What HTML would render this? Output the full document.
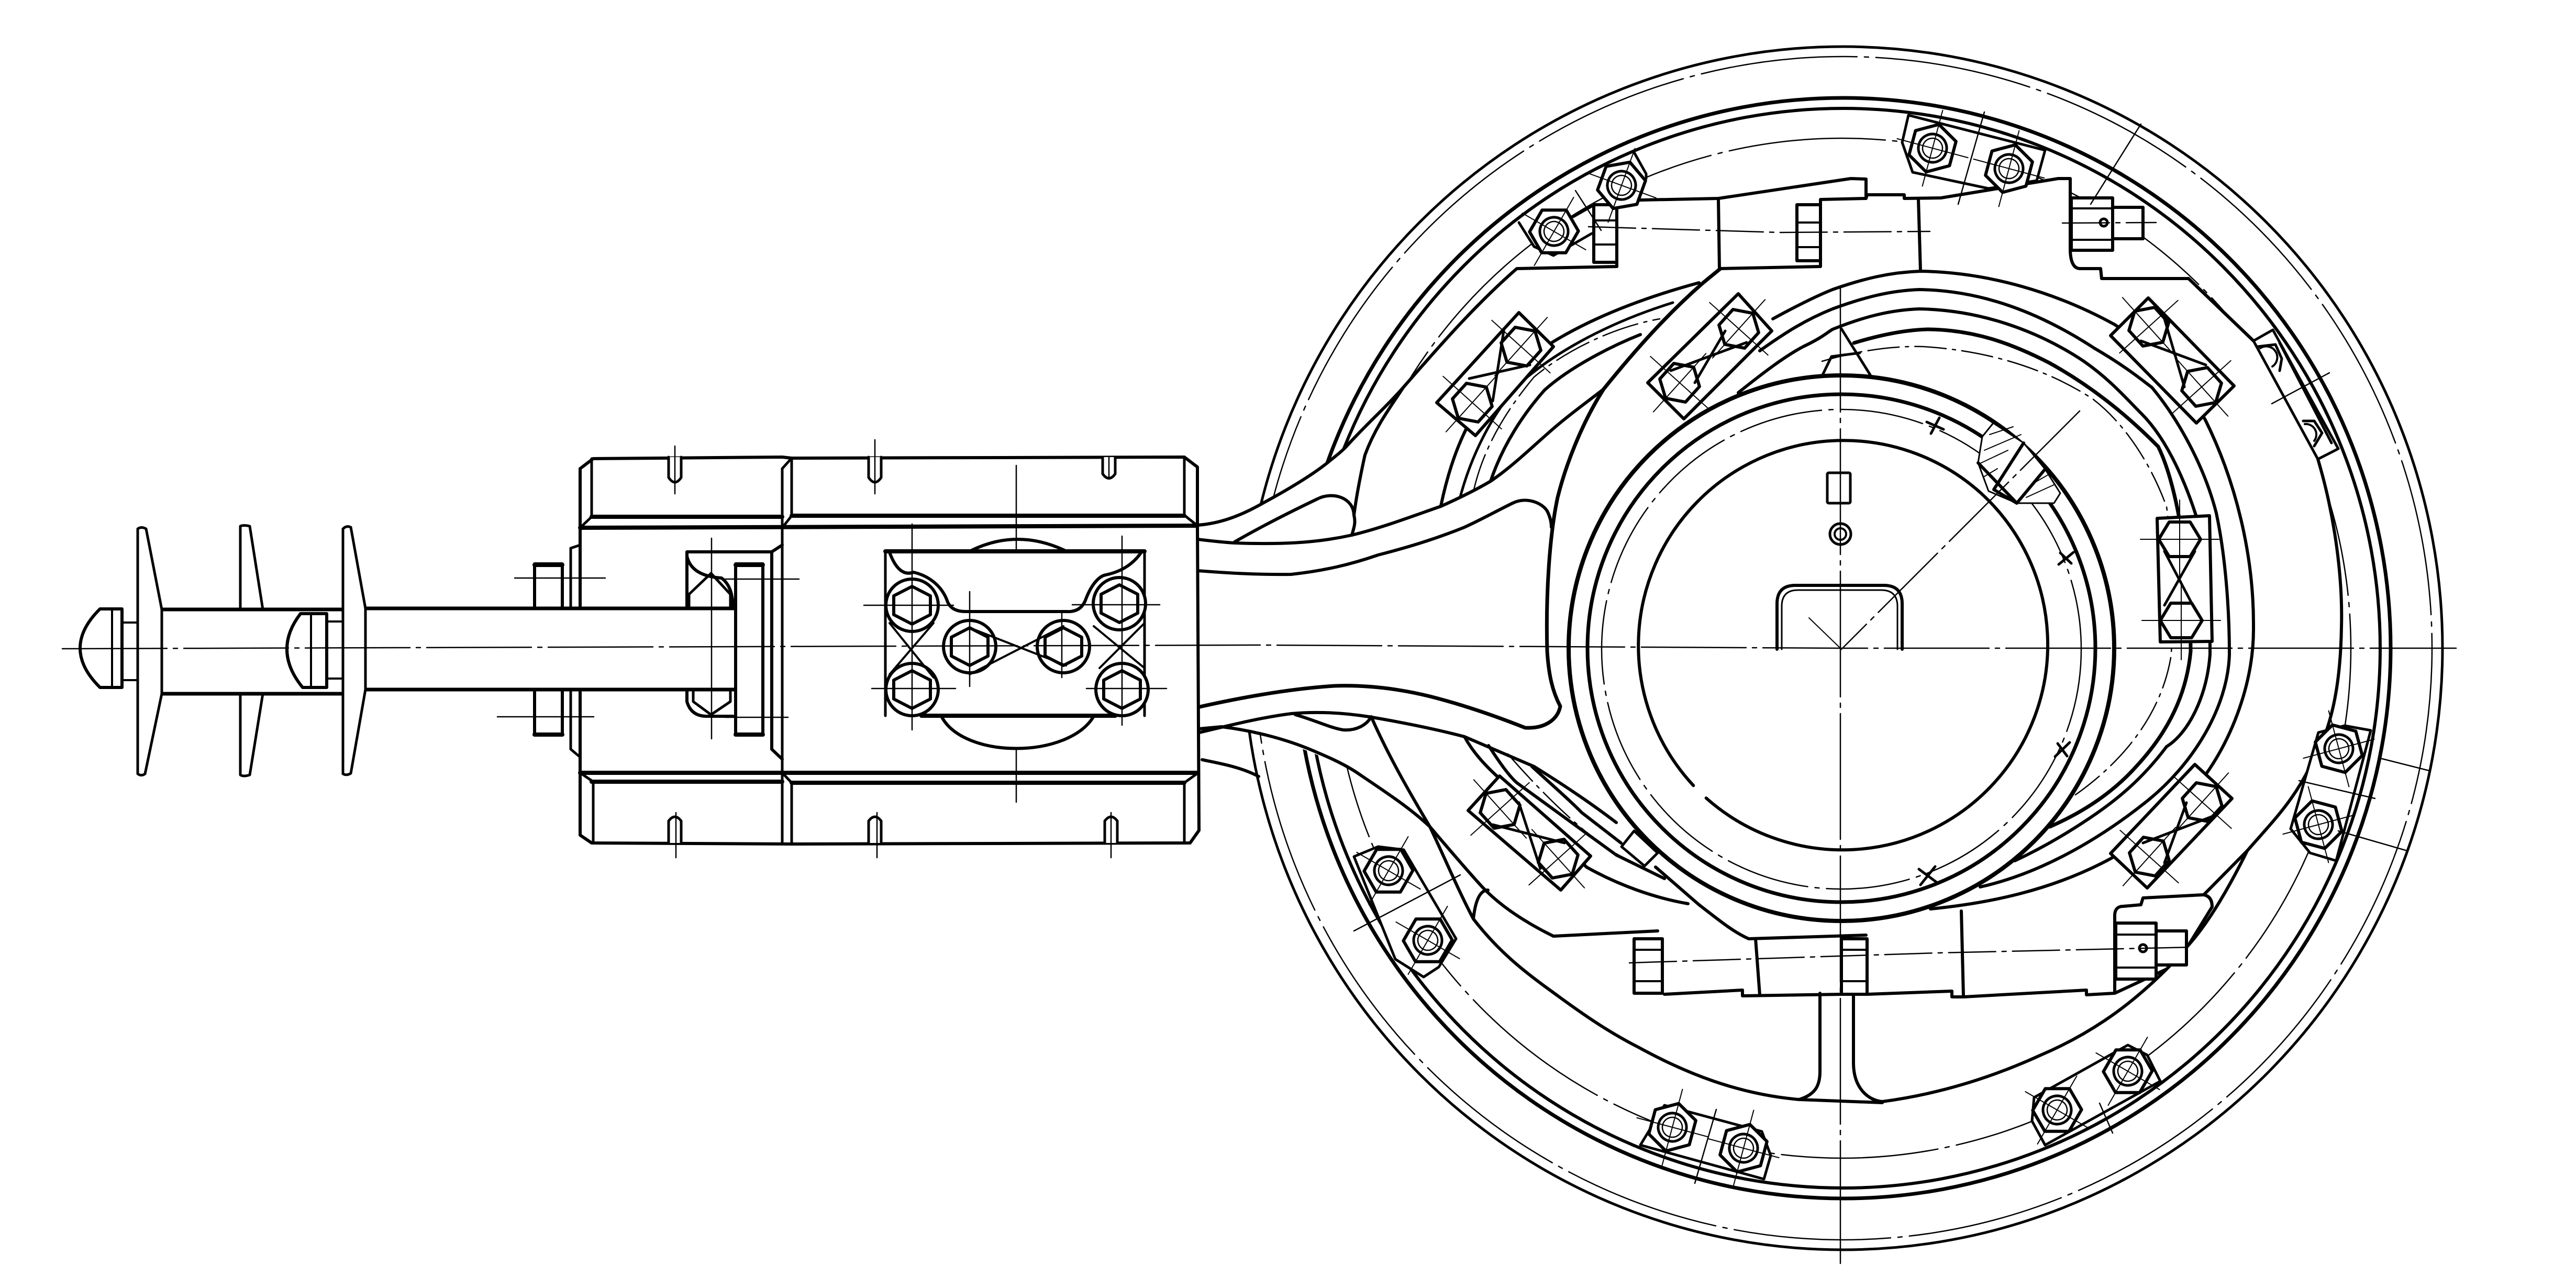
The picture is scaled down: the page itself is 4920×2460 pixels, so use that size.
<!DOCTYPE html>
<html><head><meta charset="utf-8"><style>html,body{margin:0;padding:0;background:#fff}svg{display:block}</style></head><body>
<svg xmlns="http://www.w3.org/2000/svg" width="4920" height="2460" viewBox="0 0 4920 2460">
<defs>
<g id="ph"><polygon points="0,-40 33,-20 33,20 0,40 -33,20 -33,-20" fill="#fff" stroke="#000" stroke-width="6"/><path d="M0,-75V75M-75,0H75" stroke="#000" stroke-width="2" fill="none"/></g>
<g id="nut"><polygon points="0,-47 40,-24 40,24 0,47 -40,24 -40,-24" fill="#fff" stroke="#000" stroke-width="6"/><circle r="27" fill="none" stroke="#000" stroke-width="5"/><circle r="19" fill="none" stroke="#000" stroke-width="2.5"/><path d="M0,-75V75M-70,0H70" stroke="#000" stroke-width="2" fill="none"/></g>
<g id="bb"><circle r="50" fill="#fff" stroke="#000" stroke-width="6"/><polygon points="0,-36 35,-18 35,18 0,36 -35,18 -35,-18" fill="none" stroke="#000" stroke-width="6"/></g>
</defs>
<rect width="4920" height="2460" fill="#fff"/>
<g fill="none" stroke="#000" stroke-width="5" stroke-linejoin="round" stroke-linecap="round">
<!-- rim rings -->
<ellipse cx="3520" cy="1238" rx="1145" ry="1149" stroke-width="5"/>
<ellipse cx="3520" cy="1238" rx="1125" ry="1130" stroke-width="2.5" stroke-dasharray="300 14 8 14"/>
<ellipse cx="3520" cy="1238" rx="1046" ry="1051" stroke-width="7"/>
<ellipse cx="3520" cy="1238" rx="1026" ry="1031" stroke-width="6"/>
<ellipse cx="3518" cy="1238" rx="972" ry="974" stroke-width="2.5" stroke-dasharray="300 14 8 14"/>
<!-- arm white fill -->
<path fill="#fff" stroke="none" d="M2287,1003C2330,1000 2370,985 2412,961C2460,935 2510,905 2540,880C2555,868 2565,860 2574,850C2610,810 2650,775 2681,739C2750,660 2820,580 2897,513L3040,446L3088,383L3282,379L3535,341L3564,342L3564,379L3637,372L3707,378L3931,341L3954,341L3954,478L3973,513L4014,532L4180,532L4304,651L4427,877C4455,970 4475,1090 4472,1198C4470,1320 4450,1400 4412,1464C4380,1530 4340,1570 4292,1625L4180,1805L4142,1847C4060,1930 3980,1980 3898,2015C3800,2060 3700,2090 3595,2104L3436,2102C3320,2090 3220,2050 3129,2000C3060,1965 3010,1935 2963,1893C2900,1840 2860,1800 2814,1755L2731,1579C2690,1535 2650,1505 2598,1480C2540,1450 2440,1405 2333,1388L2287,1400Z"/>
<!-- eccentric rings -->
<g stroke-width="6">
<path d="M3386,609C3430,585 3470,565 3500,553C3560,532 3610,520 3668,518C3800,520 3930,560 4039,620C4130,680 4190,760 4213,804C4270,920 4305,1060 4304,1198C4305,1300 4265,1410 4205,1490C4155,1555 4095,1605 4031,1640C3920,1700 3800,1725 3687,1736"/>
<path d="M3361,670C3410,635 3450,610 3500,590C3560,568 3610,555 3666,553C3790,555 3900,600 4000,665C4060,700 4090,725 4110,740C4160,800 4210,890 4233,980C4250,1060 4258,1160 4258,1250C4255,1350 4190,1460 4097,1533C4000,1610 3890,1670 3782,1694"/>
<path d="M3320,750C3370,710 3410,680 3444,662C3480,645 3490,635 3500,629C3560,605 3610,592 3666,590C3780,592 3890,630 3980,690C4030,725 4060,760 4090,790C4150,850 4190,960 4210,1040C4220,1120 4221,1200 4221,1250C4215,1330 4180,1400 4138,1426C4090,1490 4040,1530 3989,1564C3950,1590 3900,1620 3848,1644"/>
<path stroke-width="7" d="M3541,655C3590,640 3640,630 3682,629C3770,630 3840,655 3914,693C3990,735 4060,790 4122,853C4160,930 4184,1090 4184,1244C4175,1340 4130,1410 4080,1464C4030,1520 3970,1555 3915,1579"/>
<path stroke-width="2.5" stroke-dasharray="60 12 6 12" d="M3480,690C3540,672 3610,660 3674,662C3800,670 3910,705 3997,762C4060,810 4110,890 4138,968C4150,1050 4150,1170 4147,1250C4130,1360 4060,1450 3964,1518"/>
<path stroke-width="6" d="M2752,966C2770,880 2800,800 2850,745C2930,660 3060,590 3245,540"/>
<path stroke-width="5" d="M2789,949C2810,870 2850,790 2900,735C2960,680 3060,620 3195,578"/>
<path stroke-width="6" d="M2847,919C2870,850 2910,790 2950,745C3000,700 3080,660 3133,639"/>
<path stroke-width="2.5" stroke-dasharray="70 12 6 12" d="M2815,935C2835,850 2880,780 2930,720C2990,670 3080,625 3170,609"/>
<path d="M2797,1407C2815,1440 2840,1465 2864,1487L3030,1656C3090,1690 3160,1715 3224,1726"/>
<path d="M2843,1424C2860,1450 2880,1480 2897,1495L3087,1633L3179,1678"/>
<path d="M2926,1464C2965,1500 3000,1530 3021,1552L3096,1610"/>
<path stroke-width="2.5" stroke-dasharray="70 12 6 12" d="M2880,1440C2940,1510 3040,1610 3105,1640"/>
</g>
<!-- arm outlines -->
<g stroke-width="6">
<path d="M2287,1003C2330,1000 2370,985 2412,961C2460,935 2510,905 2540,880C2555,868 2565,860 2574,850C2610,810 2650,775 2681,739C2750,660 2820,580 2897,513L3088,509"/>
<path d="M2287,1030C2320,1034 2340,1036 2358,1037C2440,1040 2510,1038 2582,1022C2640,1008 2700,985 2752,967C2790,950 2820,935 2847,919C2890,890 2930,850 2971,815C3000,790 3035,765 3063,743"/>
<path d="M2287,1090C2340,1094 2400,1098 2466,1097C2530,1090 2580,1078 2632,1060C2690,1045 2740,1030 2797,1007C2830,992 2860,975 2889,961C2915,948 2945,960 2955,976C2962,990 2963,1000 2963,1007"/>
<path d="M2358,1035C2410,1005 2470,975 2516,953C2545,938 2585,950 2586,984C2590,1000 2585,1010 2582,1022"/>
<path d="M2586,984C2592,935 2607,869 2607,869C2625,820 2650,785 2681,739"/>
<path stroke-width="7" d="M3286,513L3253,540C3190,595 3130,660 3063,743C3020,810 2990,890 2975,950C2960,1020 2952,1130 2955,1244C2958,1290 2965,1320 2980,1349C2975,1375 2950,1392 2913,1390C2850,1365 2790,1345 2731,1330C2670,1315 2610,1308 2549,1310C2470,1315 2380,1330 2287,1351"/>
<path d="M2287,1400C2350,1385 2410,1370 2466,1363C2520,1358 2570,1362 2615,1369C2680,1380 2740,1392 2797,1407C2840,1425 2885,1445 2930,1464C2980,1495 3040,1535 3087,1571"/>
<path d="M2290,1392L2333,1388C2390,1395 2450,1410 2499,1430C2535,1445 2570,1460 2598,1480C2650,1515 2695,1545 2731,1579C2770,1625 2800,1660 2831,1694C2870,1735 2920,1765 2967,1788L3166,1778"/>
<path d="M2474,1365C2510,1375 2540,1390 2565,1394C2590,1396 2610,1385 2619,1369"/>
<path d="M2619,1369C2650,1440 2690,1510 2731,1579C2760,1640 2785,1700 2814,1755C2860,1815 2910,1855 2963,1893C3020,1935 3070,1970 3129,2000C3220,2050 3320,2090 3436,2100C3470,2090 3476,2070 3476,2046L3476,1897"/>
<path d="M3540,1900L3540,2030C3540,2080 3570,2102 3595,2104C3700,2090 3800,2060 3898,2015C3980,1980 4060,1930 4142,1847"/>
<path d="M3436,2100L3595,2106"/>
<path d="M2296,1451C2330,1458 2370,1465 2404,1483"/>
<path d="M2814,1755Q2820,1700 2842,1700"/>
<path d="M3162,1656L3245,1728C3280,1755 3310,1780 3340,1793L3564,1786"/>
<path d="M3286,513L3477,509L3477,381L3564,379M3088,509L3088,383L3282,379L3535,341L3564,342L3564,379L3566,372L3637,372L3637,379M3637,379L3707,378L3931,341L3954,341L3954,478Q3955,513 3973,513L4012,513L4014,532L4180,532L4304,651"/>
<path d="M3282,381L3284,513M3664,381L3668,517"/>
<path d="M3353,1793L3361,1900M3746,1740L3750,1902"/>
<path d="M3179,1899L3328,1891L3328,1902L3519,1899M3566,1899L3728,1893L3728,1904L3750,1904L3985,1891L3985,1900L4039,1897L4039,1747Q4040,1731 4055,1731L4089,1728L4093,1715L4209,1709Q4225,1712 4225,1732L4180,1805M4209,1709L4292,1625M4039,1897L4138,1851"/>
<path d="M4180,532L4304,651M4427,877C4455,970 4475,1090 4472,1198C4470,1320 4450,1400 4412,1464C4380,1530 4340,1570 4292,1625C4260,1690 4220,1760 4180,1805L4142,1847"/>
</g>
<!-- arm bolts -->
<g stroke-width="6" fill="#fff">
<rect x="3044" y="391" width="44" height="110"/><rect x="3432" y="391" width="45" height="107"/>
<rect x="3121" y="1793" width="54" height="104"/><rect x="3517" y="1793" width="49" height="106"/>
<rect x="3956" y="378" width="79" height="100"/><rect x="4035" y="396" width="58" height="60"/>
<rect x="4041" y="1763" width="77" height="107"/><rect x="4118" y="1778" width="58" height="65"/>
</g>
<path stroke-width="4" d="M3044,421H3088M3044,467H3088M3432,425H3477M3432,472H3477M3121,1814H3175M3121,1874H3175M3517,1814H3566M3517,1874H3566M3956,398H4035M3956,458H4035M4041,1785H4118M4041,1848H4118"/>
<circle cx="4018" cy="425" r="7"/><circle cx="4093" cy="1811" r="7"/>
<path stroke-width="2.5" stroke-dasharray="90 12 8 12" d="M3034,433L3402,444L3686,442M3939,426L4118,425M3112,1839L3700,1820L4188,1809"/>
<!-- plates -->
<g stroke-width="6" fill="#fff">
<polygon points="2901,597 2967,662 2818,832 2744,769"/>
<polygon points="3320,561 3384,632 3216,800 3147,731"/>
<polygon points="4103,569 4267,737 4195,808 4031,641"/>
<polygon points="4120,990 4220,985 4225,1225 4126,1226"/>
<polygon points="4192,1460 4263,1525 4101,1696 4031,1630"/>
<polygon points="2864,1482 3038,1635 2981,1700 2804,1548"/>
</g>
<use href="#ph" transform="translate(2905,662) rotate(42)"/><use href="#ph" transform="translate(2812,769) rotate(42)"/>
<use href="#ph" transform="translate(3321,628) rotate(42)"/><use href="#ph" transform="translate(3208,731) rotate(42)"/>
<use href="#ph" transform="translate(4104,624) rotate(-42)"/><use href="#ph" transform="translate(4205,739) rotate(-42)"/>
<use href="#ph" transform="translate(4163,1030) rotate(90)"/><use href="#ph" transform="translate(4166,1185) rotate(90)"/>
<use href="#ph" transform="translate(4206,1532) rotate(42)"/><use href="#ph" transform="translate(4105,1636) rotate(42)"/>
<use href="#ph" transform="translate(2865,1545) rotate(-42)"/><use href="#ph" transform="translate(2976,1640) rotate(-42)"/>
<path stroke-width="5" d="M2872,632L2851,766M2806,723L2922,697M3295,632L3237,731M3191,708L3336,654M4134,609L4172,739M4089,651L4213,697M4134,1053L4188,1156M4192,1053L4134,1156M4234,1556L4093,1610M4176,1533L4134,1648M2901,1533L2942,1659M2851,1575L2988,1610"/>
<!-- hub -->
<circle cx="3517" cy="1238" r="521" fill="#fff" stroke-width="8"/>
<path stroke-width="5" d="M3481,716L3498,681L3552,674M3517,628L3572,716"/>
<circle cx="3517" cy="1238" r="485" stroke-width="7"/>
<circle cx="3517" cy="1240" r="458" stroke-width="2.5" stroke-dasharray="160 14 8 14"/>
<path stroke-width="6" d="M3258.7,1524.3A392,392 0 0 0 3783.3,941.7A392,392 0 0 0 3234.3,1500.3"/>
<!-- key section -->
<path fill="#fff" stroke-width="3" d="M3807,808L3786,834L3778,884L3798,938L3852,961L3923,961L3935,942L3906,896L3865,846Z"/>
<path stroke-width="2" d="M3800,830L3845,815M3790,860L3860,830M3782,885L3835,860M3790,910L3815,895M3870,950L3925,925M3880,925L3915,905"/>
<path stroke-width="6" d="M3865,846L3808,935L3852,961L3906,896M3778,884L3852,961"/>
<path stroke-width="2.5" stroke-dasharray="160 12 8 12" d="M3972,785L3517,1240"/>
<path stroke-width="2" d="M3455,1180L3517,1240"/>
<rect x="3490" y="903" width="44" height="58" rx="3" stroke-width="5"/>
<circle cx="3515" cy="1020" r="20" stroke-width="5"/><circle cx="3515" cy="1020" r="11" stroke-width="4"/>
<path stroke-width="6" d="M3394,1240V1153Q3394,1118 3429,1118H3598Q3633,1118 3633,1153V1240"/>
<path stroke-width="3" d="M3403,1240V1158Q3403,1127 3434,1127H3593Q3624,1127 3624,1158V1240"/>
<polygon fill="#fff" stroke-width="5" points="3121,1587 3166,1629 3141,1654 3097,1617"/>
<path stroke-width="5" d="M3688,828L3704,798M3680,806L3712,820M3932,1078L3960,1055M3935,1056L3956,1076M3925,1445L3953,1418M3930,1420L3948,1444M3668,1690L3696,1655M3665,1660L3700,1686"/>
<!-- rim bolts plates -->
<g stroke-width="5" fill="#fff">
<path d="M3121,291L3144,332L3144,341L3121,379"/>
<path d="M2901,425L2930,471L2967,488L3040,446M3040,394L3005,414"/>
<path d="M3645,220L3633,272L3653,329L3798,360L3890,345L3906,287L3645,220Z"/>
<path d="M4304,651L4341,630L4466,857L4427,877Z"/>
<path d="M4428,1399L4478,1386L4528,1395L4462,1644L4412,1629L4375,1583Z"/>
<path d="M3885,2096L3881,2141L3906,2187L4126,2065L4101,2015L4064,1996Z"/>
<path d="M3179,2111L3133,2187L3369,2252L3382,2207L3365,2161Z"/>
<path d="M2586,1636L2632,1617L2681,1623L2781,1793L2748,1847L2719,1866L2665,1832Z"/>
</g>
<use href="#nut" transform="translate(3097,354) rotate(20)"/><use href="#nut" transform="translate(2968,442) rotate(30)"/>
<use href="#nut" transform="translate(3691,283) rotate(15)"/><use href="#nut" transform="translate(3837,322) rotate(15)"/>
<use href="#nut" transform="translate(4467,1430) rotate(-15)"/><use href="#nut" transform="translate(4428,1575) rotate(-15)"/>
<use href="#nut" transform="translate(4064,2046) rotate(30)"/><use href="#nut" transform="translate(3929,2120) rotate(30)"/>
<use href="#nut" transform="translate(3194,2153) rotate(15)"/><use href="#nut" transform="translate(3330,2193) rotate(15)"/>
<use href="#nut" transform="translate(2652,1663) rotate(30)"/><use href="#nut" transform="translate(2727,1796) rotate(30)"/>
<path stroke-width="5" d="M4312,662L4346,658L4358,685L4354,708M4399,804L4420,804L4435,827L4420,852M4354,655L4453,846"/>
<path stroke-width="4" d="M4317,665A20,20 0 0 1 4340,700M4402,810A20,20 0 0 1 4420,842"/>
<path stroke-width="2.5" d="M4089,237L3993,390M4391,1491L4536,1525M4549,1449L4640,1472M4466,1587L4598,1625M2586,1778L2789,1671M3790,214L3740,390M3009,364L3058,440M3278,2119L3237,2260M4010,2107L4035,2164M4449,712L4339,771"/>
<!-- block -->
<g stroke-width="5" fill="#fff">
<path d="M1108,895L1133,876L1494,873L2262,873L2287,892L2287,1586L2273,1610L1130,1610L1108,1595Z" stroke="none"/>
</g>
<path stroke-width="6" d="M1108,895L1133,876L1494,873L1512,875L2262,873L2287,892L2287,1004M1108,895V1595L1130,1610L1512,1612L2273,1610L2290,1586L2287,1004"/>
<path stroke-width="8" d="M1130,987H1494M1512,985H2262M1108,1008L2287,1004M1108,1476H2287M1130,1493H1494M1512,1495H2262"/>
<path stroke-width="5" d="M1130,876V987L1108,1008M1494,895V1612M1494,895L1512,875V985L1494,1008M2262,873V984L2287,1004M1108,1476L1133,1493V1610M1494,1476L1512,1495V1612M2287,1477L2262,1495V1610"/>
<!-- slots -->
<g stroke-width="5" fill="#fff">
<path d="M1277,873V912Q1289,930 1301,912V873M1659,873V912Q1671,930 1683,912V873M2106,873V905Q2118,922 2130,905V873"/>
<path d="M1277,1610V1568Q1289,1552 1301,1568V1610M1659,1610V1568Q1671,1552 1683,1568V1610M2110,1610V1568Q2122,1552 2134,1568V1610"/>
</g>
<path stroke-width="2.5" d="M1289,852V943M1671,840V943M2118,872V915M1291,1552V1638M1675,1552V1638M2122,1552V1638M1941,889V1532"/>
<!-- side plate -->
<path stroke-width="5" d="M1108,1041L1090,1047V1431L1108,1446"/>
<!-- left block bolt -->
<path stroke-width="6" d="M1312,1054H1474L1494,1041M1312,1054V1162M1312,1062Q1320,1100 1378,1104Q1400,1120 1400,1162M1474,1054V1431L1494,1450M1312,1317V1340Q1320,1368 1350,1368H1400"/>
<path stroke-width="5" d="M1316,1162V1135L1358,1095L1395,1135V1162M1324,1317V1340L1358,1365L1395,1340V1317"/>
<!-- center plate -->
<rect x="1691" y="1053" width="495" height="314" fill="#fff" stroke="none"/>
<path stroke-width="6" d="M1852,1053Q1941,1008 2033,1051"/>
<path stroke-width="6" fill="#fff" d="M1798,1368C1840,1450 2040,1450 2089,1368"/>
<path stroke-width="5" d="M1691,1367V1053H2186V1367"/>
<path stroke-width="8" d="M1691,1053H2186M1760,1367H2130"/>
<path stroke-width="6" d="M1699,1055C1710,1085 1725,1100 1745,1093C1775,1100 1800,1120 1810,1150Q1818,1168 1844,1168H2036Q2065,1170 2074,1144C2085,1115 2100,1100 2112,1098C2150,1090 2170,1070 2181,1053"/>
<use href="#bb" x="1742" y="1156"/><use href="#bb" x="1852" y="1235"/><use href="#bb" x="2031" y="1235"/><use href="#bb" x="2138" y="1153"/><use href="#bb" x="1742" y="1317"/><use href="#bb" x="2143" y="1317"/>
<path stroke-width="4" d="M1699,1190L1783,1294M1783,1190L1699,1288M1852,1199L2036,1271M1852,1288L2031,1196M2089,1196L2186,1276M2186,1190L2100,1276"/>
<path stroke-width="2.5" d="M1650,1156H1821M2048,1155H2215M1665,1315H1825M2075,1315H2228M1742,1001V1394M2143,1024V1385M1852,1130V1311M2028,1167V1294"/>
<!-- flanges bolts -->
<rect x="1021" y="1077" width="53" height="326" fill="#fff" stroke="none"/>
<path stroke-width="6" d="M1021,1162V1077H1074V1162M1021,1317V1403H1074V1317"/>
<!-- shaft -->
<rect x="698" y="1162" width="707" height="155" fill="#fff" stroke="none"/>
<path stroke-width="7" d="M698,1162H1405M698,1317H1405"/>
<rect x="309" y="1164" width="346" height="161" fill="#fff" stroke="none"/>
<path stroke-width="7" d="M309,1164H655M309,1325H655"/>
<path d="M1405,1077H1457V1403H1405Z" fill="#fff" stroke-width="6"/>
<path stroke-width="8" d="M1021,1079H1074M1405,1079H1457M1021,1403H1074M1405,1403H1457"/>
<path stroke-width="2.5" d="M983,1104H1156M950,1369H1134M1385,1106H1526M1385,1370H1505M1359,1028V1411"/>
<!-- flanges -->
<path fill="#fff" d="M263,1010V1478Q270,1483 277,1478L309,1325V1164L279,1010Q270,1005 263,1010Z"/>
<path d="M459,1164V1005Q465,1002 477,1005L502,1164M459,1325V1480Q465,1484 477,1480L502,1325"/>
<path fill="#fff" d="M655,1010V1478Q662,1482 670,1477L698,1317V1162L670,1007Q662,1003 655,1010Z"/>
<!-- knobs -->
<path fill="#fff" stroke-width="6" d="M191,1163H233V1313H191Q115,1238 191,1163Z"/>
<path stroke-width="4" d="M214,1163V1313M233,1189H263M233,1299H263"/>
<path fill="#fff" stroke-width="6" d="M574,1172H624V1313H578Q520,1242 574,1172Z"/>
<path stroke-width="4" d="M594,1172V1313M624,1187H655M624,1296H655"/>
<!-- center lines -->
<path stroke-width="2.5" stroke-dasharray="200 12 8 12" d="M119,1239L2400,1232L3515,1238L4691,1238"/>
<path stroke-width="2.5" stroke-dasharray="240 12 8 12" d="M3515,547V2413"/>
</g>
</svg>
</body></html>
